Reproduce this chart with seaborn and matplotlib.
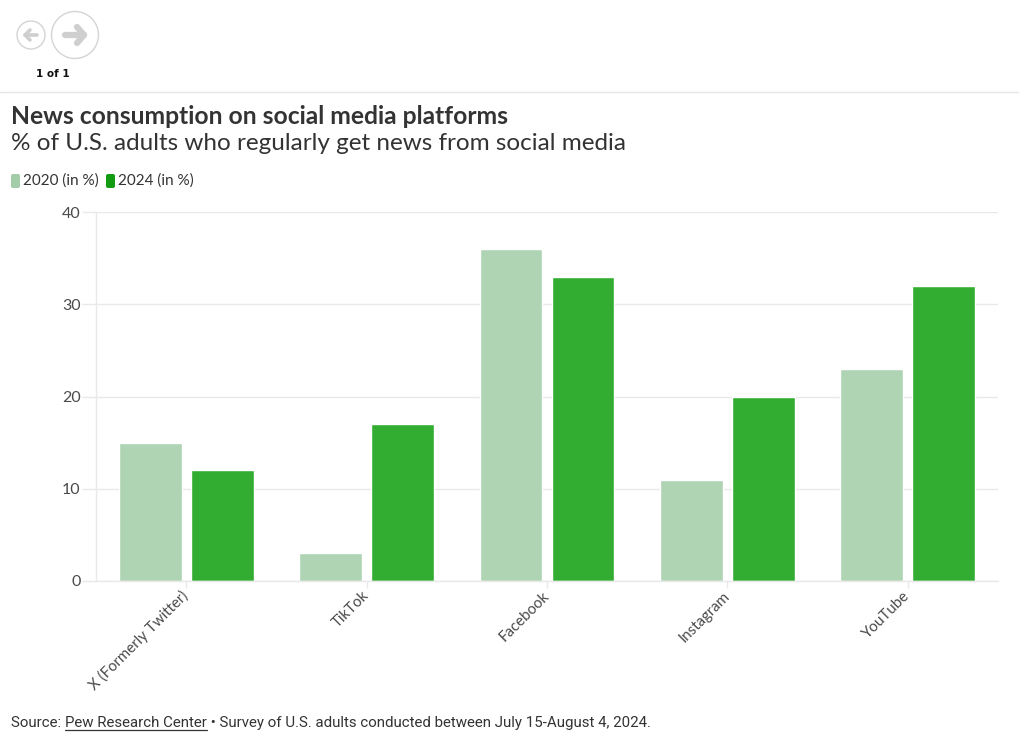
"""News consumption on social media platforms - grouped bar chart."""

import matplotlib

matplotlib.use("Agg")
import matplotlib.pyplot as plt
import pandas as pd
import seaborn as sns
from matplotlib.lines import Line2D
from matplotlib.patches import Circle, FancyBboxPatch

PLATFORMS = ["X (Formerly Twitter)", "TikTok", "Facebook", "Instagram", "YouTube"]
SERIES = ["2020 (in %)", "2024 (in %)"]
VALUES_2020 = [15, 3, 36, 11, 23]
VALUES_2024 = [12, 17, 33, 20, 32]
Y_TICKS = [0, 10, 20, 30, 40]

TITLE = "News consumption on social media platforms"
SUBTITLE = "% of U.S. adults who regularly get news from social media"
SOURCE_PARTS = ["Source: ", "Pew Research Center",
                " \u2022 Survey of U.S. adults conducted between July 15-August 4, 2024."]

LIGHT = "#afd4b4"
DARK = "#32ad31"
LEGEND_LIGHT = "#a2cda8"
LEGEND_DARK = "#139c13"
TEXT = "#333333"
TICK_TEXT = "#4a4a4a"
GRID = "#e9e9e9"

W, H = 1020, 743
FONT = ["Lato", "DejaVu Sans"]
NARROW = ["Liberation Sans Narrow", "Roboto", "DejaVu Sans"]


def main():
    sns.set_theme(style="white")
    plt.rcParams["font.family"] = FONT

    fig = plt.figure(figsize=(W / 100, H / 100), dpi=100)
    fig.patch.set_facecolor("white")

    # overlay in pixel coordinates for header / footer decoration
    over = fig.add_axes([0, 0, 1, 1], zorder=-1)
    over.set_xlim(0, W)
    over.set_ylim(H, 0)
    over.axis("off")

    # nav buttons
    over.add_patch(Circle((31, 35), 14, fill=False, ec="#d4d4d4", lw=1))
    over.add_patch(Circle((75, 35), 23.5, fill=False, ec="#d4d4d4", lw=1))
    arrow = dict(color="#cfcfcf", solid_capstyle="round", solid_joinstyle="round")
    over.add_line(Line2D([25, 37], [35, 35], lw=2.6, **arrow))
    over.add_line(Line2D([30, 25, 30], [30, 35, 40], lw=2.6, **arrow))
    over.add_line(Line2D([65, 84], [35, 35], lw=4.5, **arrow))
    over.add_line(Line2D([77, 84, 77], [27, 35, 43], lw=4.5, **arrow))
    over.text(53, 74, "1 of 1", ha="center", va="center", fontsize=7.5,
              fontweight="bold", color="#111111", family=["DejaVu Sans"])
    over.axhline(92, color="#e6e6e6", lw=1)

    # titles
    over.text(11, 117, TITLE, ha="left", va="center", fontsize=17.7,
              fontweight="bold", color=TEXT)
    over.text(11, 143, SUBTITLE, ha="left", va="center", fontsize=17.5,
              color=TEXT)

    # legend
    legend_x = [11, 106]
    for x0, label, col in zip(legend_x, SERIES, [LEGEND_LIGHT, LEGEND_DARK]):
        over.add_patch(FancyBboxPatch((x0, 174), 9, 14,
                                      boxstyle="round,pad=0,rounding_size=2",
                                      fc=col, ec="none"))
        over.text(x0 + 12, 181, label, ha="left", va="center", fontsize=11,
                  color=TEXT)

    # bars
    df = pd.DataFrame({
        "platform": PLATFORMS * 2,
        "value": VALUES_2020 + VALUES_2024,
        "series": [SERIES[0]] * len(PLATFORMS) + [SERIES[1]] * len(PLATFORMS),
    })
    ax = fig.add_axes([96 / W, (H - 581) / H, (998 - 96) / W, (581 - 212) / H])
    sns.barplot(data=df, x="platform", y="value", hue="series",
                palette=[LIGHT, DARK], width=0.8, gap=0.13, saturation=1,
                legend=False, ax=ax)
    ax.set_xlim(-0.5, len(PLATFORMS) - 0.5)
    ax.set_ylim(0, 40)
    ax.set_yticks(Y_TICKS)
    ax.set_xlabel("")
    ax.set_ylabel("")
    ax.set_axisbelow(True)
    ax.yaxis.grid(True, color=GRID, lw=1)
    ax.xaxis.grid(False)
    for side in ["top", "right"]:
        ax.spines[side].set_visible(False)
    for side in ["left", "bottom"]:
        ax.spines[side].set_color(GRID)
        ax.spines[side].set_linewidth(1)
    ax.tick_params(axis="y", length=10, width=1, color=GRID, labelsize=11.5,
                   labelcolor=TICK_TEXT, pad=1, left=True)
    ax.tick_params(axis="x", length=5, width=1, color=GRID, labelsize=10.8,
                   labelcolor=TICK_TEXT, pad=4, bottom=True)
    for lbl in ax.get_xticklabels():
        lbl.set_rotation(45)
        lbl.set_ha("right")
        lbl.set_va("center")
        lbl.set_rotation_mode("anchor")

    # footer with underlined link
    fig.canvas.draw()
    renderer = fig.canvas.get_renderer()
    x = 11
    for i, part in enumerate(SOURCE_PARTS):
        t = over.text(x, 723, part, ha="left", va="center", fontsize=10.85,
                      color=TEXT, family=NARROW)
        bb = t.get_window_extent(renderer=renderer)
        if i == 1:
            over.add_line(Line2D([bb.x0, bb.x1], [730, 730], color=TEXT, lw=0.9))
        x = bb.x1

    fig.savefig("out.png", dpi=100, facecolor="white")


if __name__ == "__main__":
    main()
